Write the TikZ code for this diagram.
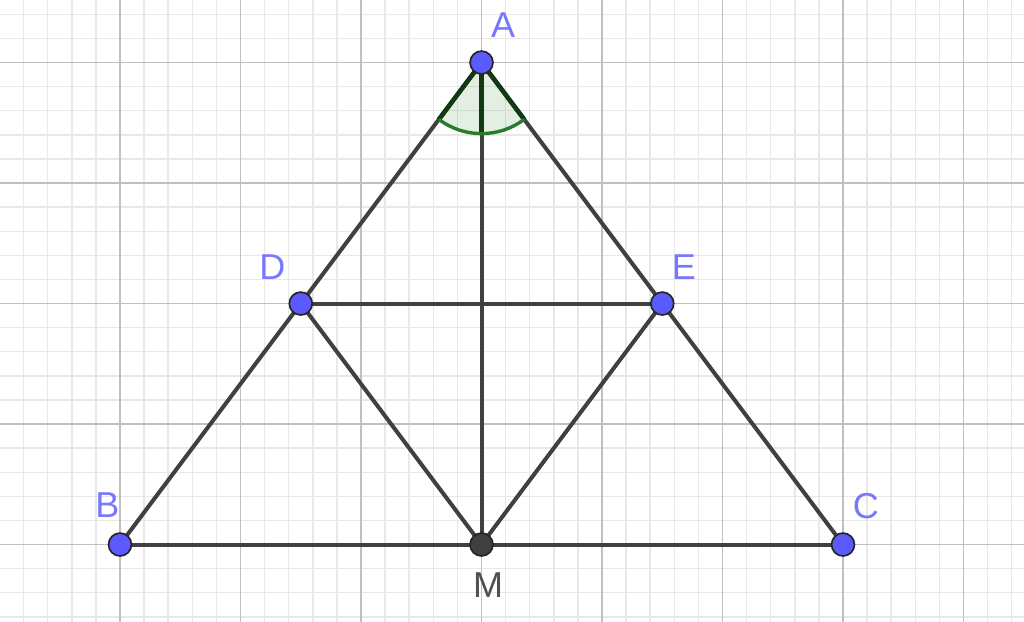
\documentclass[tikz,border=0pt]{standalone}
\usepackage{fontspec}
\setmainfont{Liberation Sans}
\usetikzlibrary{calc}
\definecolor{gridmaj}{RGB}{192,192,192}
\definecolor{gridmin}{RGB}{232,232,232}
\definecolor{segc}{RGB}{64,64,64}
\definecolor{ptblue}{RGB}{90,90,255}
\definecolor{lblblue}{RGB}{120,120,255}
\definecolor{lblgray}{RGB}{80,80,80}
\definecolor{anggreen}{RGB}{40,125,40}
\definecolor{angdark}{RGB}{20,55,20}
\tikzset{
  seg/.style={draw=segc, line width=0.95pt},
  ptb/.style={circle, fill=ptblue, draw=black!85, line width=0.4pt, minimum size=0.19cm, inner sep=0pt},
  ptm/.style={circle, fill=segc, draw=black!85, line width=0.4pt, minimum size=0.19cm, inner sep=0pt},
  lbl/.style={text=lblblue, font=\fontsize{8.5}{10}\selectfont, inner sep=0pt},
  lblm/.style={text=lblgray, font=\fontsize{8.5}{10}\selectfont, inner sep=0pt},
}
\begin{document}
\begin{tikzpicture}[x=1cm,y=1cm]
\useasboundingbox (-0.996,-0.635) rectangle (7.502,4.519);
\fill[white] (-0.996,-0.635) rectangle (7.502,4.519);
\clip (-0.996,-0.635) rectangle (7.502,4.519);
\draw[gridmin, line width=0.35pt] (-1.2,-0.8) grid[step=0.2] (7.8,4.8);
\draw[gridmaj, line width=0.45pt] (-1,-1) grid[step=1] (7.8,4.8);

\coordinate (A) at (3,4);
\coordinate (B) at (0,0);
\coordinate (C) at (6,0);
\coordinate (D) at (1.5,2);
\coordinate (E) at (4.5,2);
\coordinate (M) at (3,0);

% angle sector at A
\fill[anggreen, fill opacity=0.12] (A) -- ($(A)+(233.13:0.59)$) arc[start angle=233.13, end angle=306.87, radius=0.59] -- cycle;

\draw[seg] (A) -- (B);
\draw[seg] (A) -- (C);
\draw[seg] (B) -- (C);
\draw[seg] (D) -- (E);
\draw[seg] (A) -- (M);
\draw[seg] (D) -- (M);
\draw[seg] (E) -- (M);

\draw[angdark, line width=1.1pt] ($(A)+(233.13:0.59)$) -- (A) -- ($(A)+(306.87:0.59)$);
\draw[angdark, line width=1.1pt] (A) -- ($(A)+(270:0.59)$);
\draw[anggreen, line width=0.8pt] ($(A)+(233.13:0.59)$) arc[start angle=233.13, end angle=306.87, radius=0.59];

\node[ptb] (pA) at (A) {};
\node[ptb] (pB) at (B) {};
\node[ptb] (pC) at (C) {};
\node[ptb] (pD) at (D) {};
\node[ptb] (pE) at (E) {};
\node[ptm] (pM) at (M) {};

\node[lbl] (lA) at (3.18,4.31) {A};
\node[lbl] (lB) at (-0.105,0.33) {B};
\node[lbl] (lC) at (6.19,0.315) {C};
\node[lbl] (lD) at (1.265,2.3) {D};
\node[lbl] (lE) at (4.68,2.3) {E};
\node[lblm] (lM) at (3.055,-0.34) {M};
\end{tikzpicture}
\end{document}
